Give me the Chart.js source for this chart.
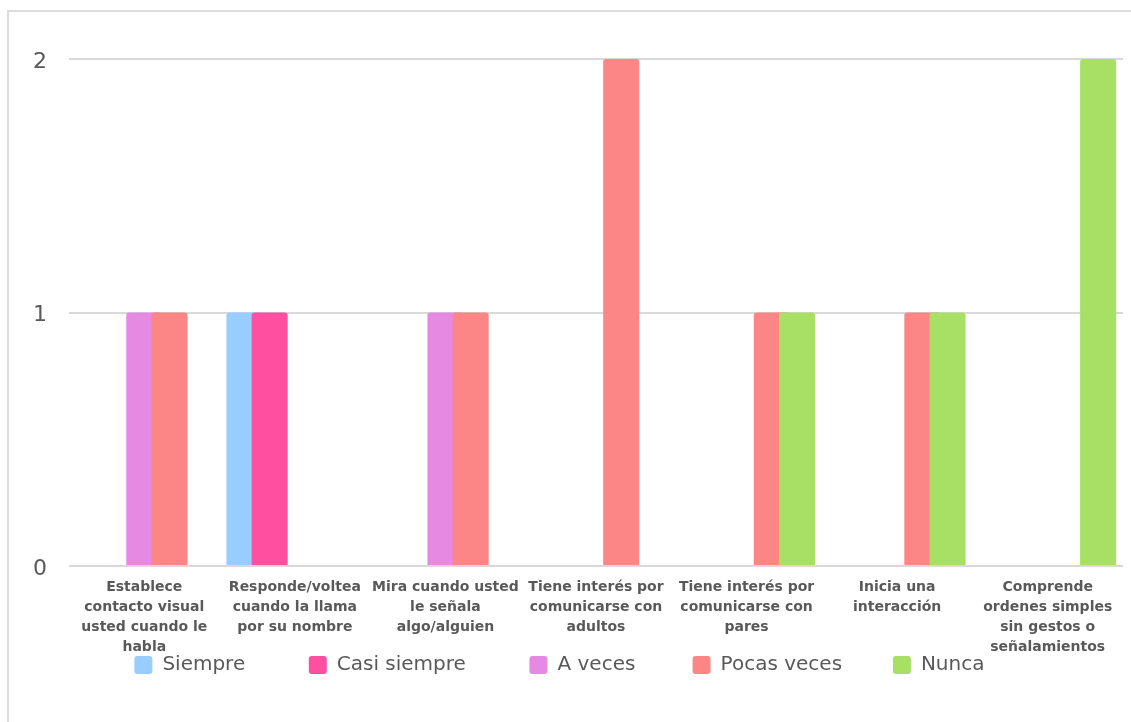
<!DOCTYPE html>
<html>
<head>
<meta charset="utf-8">
<script src="https://cdn.jsdelivr.net/npm/chart.js@4.4.1/dist/chart.umd.min.js"></script>
<style>
  html, body { margin: 0; padding: 0; background: #fff; }
  #frame { position: absolute; left: 7px; top: 10px; width: 1140px; height: 730px; border: 2px solid #dcdcdc; }
  #wrap { position: absolute; left: 0; top: 0; width: 1131px; height: 722px; }
</style>
</head>
<body>
<div id="frame"></div>
<div id="wrap"><canvas id="chart"></canvas></div>
<script>
// Categories (already split into lines the way the picture wraps them)
const categories = [
    ['Establece', 'contacto visual', 'usted cuando le', 'habla'],
    ['Responde/voltea', 'cuando la llama', 'por su nombre'],
    ['Mira cuando usted', 'le señala', 'algo/alguien'],
    ['Tiene interés por', 'comunicarse con', 'adultos'],
    ['Tiene interés por', 'comunicarse con', 'pares'],
    ['Inicia una', 'interacción'],
    ['Comprende', 'ordenes simples', 'sin gestos o', 'señalamientos']
];

const seriesNames = ['Siempre', 'Casi siempre', 'A veces', 'Pocas veces', 'Nunca'];

const siempre     = [0, 1, 0, 0, 0, 0, 0];
const casiSiempre = [0, 1, 0, 0, 0, 0, 0];
const aVeces      = [1, 0, 1, 0, 0, 0, 0];
const pocasVeces  = [1, 0, 1, 2, 1, 1, 0];
const nunca       = [0, 0, 0, 0, 1, 1, 2];

const yTicks = [0, 1, 2];

const colors = ['#99ccff', '#ff4fa1', '#e689e3', '#fc8585', '#a7e064'];
const seriesData = [siempre, casiSiempre, aVeces, pocasVeces, nunca];

const textColor = '#595959';
const fontFamily = "'DejaVu Sans', sans-serif";

// Bars overlap a bit; the later series should sit on top like in the original
const drawInOrder = {
    id: 'drawInOrder',
    beforeDatasetsDraw(chart) {
        chart.getSortedVisibleDatasetMetas().forEach(meta => meta.controller.draw());
        return false;
    }
};

// extra spaces after each legend text to get the wide gaps between entries
const legendSpaces = [10, 10, 9, 8, 6];

const ctx = document.getElementById('chart').getContext('2d');
const chart = new Chart(ctx, {
    type: 'bar',
    data: {
        labels: categories,
        datasets: seriesNames.map((name, i) => ({
            label: name,
            data: seriesData[i],
            backgroundColor: colors[i],
            borderWidth: 0,
            borderRadius: { topLeft: 3, topRight: 3 },
            categoryPercentage: 0.837,
            barPercentage: 1.43
        }))
    },
    options: {
        responsive: true,
        maintainAspectRatio: false,
        animation: false,
        layout: {
            padding: { top: 59, left: 34, right: 8, bottom: 37 }
        },
        scales: {
            x: {
                grid: { display: false, drawTicks: false },
                border: { display: false },
                // labels hang a little into the legend row, like the original
                afterFit(scale) { scale.height = 89; },
                ticks: {
                    padding: 11,
                    maxRotation: 0,
                    autoSkip: false,
                    color: textColor,
                    font: { family: fontFamily, size: 14, weight: 'bold', lineHeight: 20 / 14 }
                }
            },
            y: {
                min: 0,
                max: 2,
                afterBuildTicks(axis) {
                    axis.ticks = yTicks.map(v => ({ value: v }));
                },
                afterFit(scale) { scale.width = 35; },
                border: { display: false },
                grid: { color: '#d9d9d9', lineWidth: 2, drawTicks: false },
                ticks: {
                    padding: 22,
                    labelOffset: 3,
                    color: textColor,
                    font: { family: fontFamily, size: 22 }
                }
            }
        },
        plugins: {
            tooltip: { enabled: false },
            legend: {
                position: 'bottom',
                labels: {
                    padding: 0,
                    boxWidth: 18,
                    boxHeight: 18,
                    useBorderRadius: true,
                    borderRadius: 3,
                    color: textColor,
                    font: { family: fontFamily, size: 20 },
                    generateLabels(chart) {
                        const items = Chart.defaults.plugins.legend.labels.generateLabels(chart);
                        items.forEach((item, i) => {
                            item.text = item.text + ' '.repeat(legendSpaces[i]);
                        });
                        return items;
                    }
                }
            }
        }
    },
    plugins: [drawInOrder]
});
</script>
</body>
</html>
